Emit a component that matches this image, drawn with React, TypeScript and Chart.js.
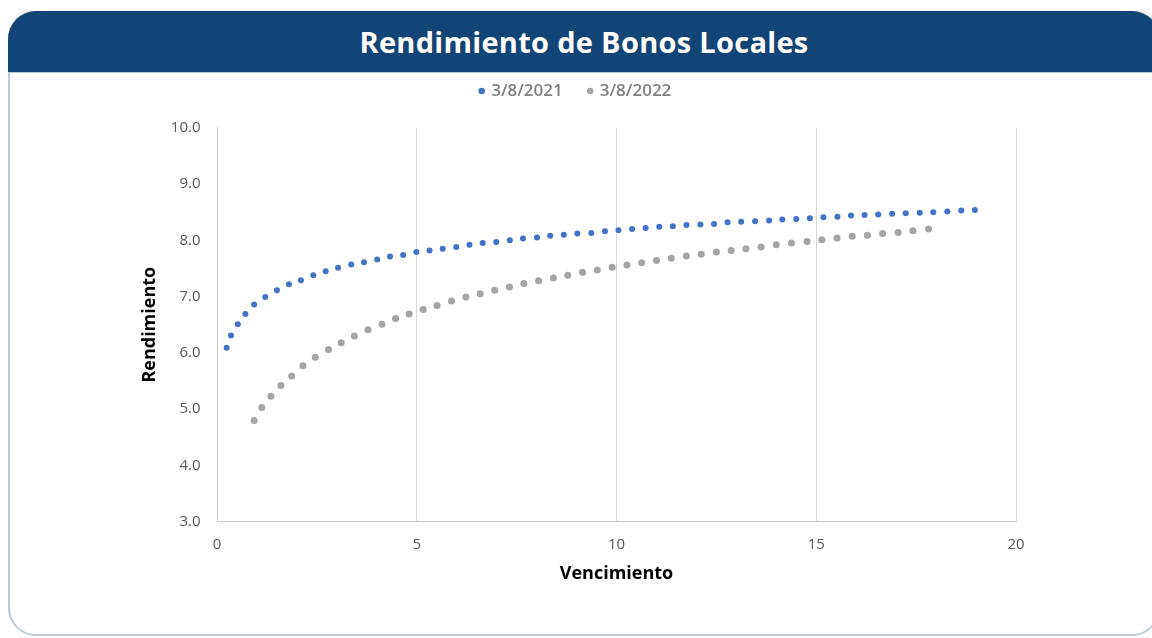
import React, { useEffect, useRef } from 'react';
import { Chart, registerables } from 'chart.js';

Chart.register(...registerables);

const TITLE = 'Rendimiento de Bonos Locales';
const SERIES_LABELS = ['3/8/2021', '3/8/2022'];
const X_TITLE = 'Vencimiento';
const Y_TITLE = 'Rendimiento';

const X_TICKS = [0, 5, 10, 15, 20];
const X_TICK_LABELS = ['0', '5', '10', '15', '20'];
const Y_TICKS = [3, 4, 5, 6, 7, 8, 9, 10];
const Y_TICK_LABELS = ['3.0', '4.0', '5.0', '6.0', '7.0', '8.0', '9.0', '10.0'];

const BLUE_X = [0.24, 0.35, 0.52, 0.71, 0.93, 1.21, 1.5, 1.8, 2.1, 2.41, 2.72, 3.03, 3.36, 3.68, 4.01, 4.33, 4.66, 4.99, 5.32, 5.65, 5.99, 6.32, 6.65, 6.99, 7.33, 7.66, 8.01, 8.34, 8.68, 9.02, 9.37, 9.71, 10.05, 10.39, 10.73, 11.07, 11.41, 11.75, 12.1, 12.44, 12.78, 13.12, 13.47, 13.82, 14.15, 14.5, 14.84, 15.18, 15.53, 15.87, 16.21, 16.55, 16.9, 17.24, 17.59, 17.93, 18.28, 18.63, 18.97];
const BLUE_Y = [6.09, 6.31, 6.51, 6.69, 6.86, 6.99, 7.11, 7.22, 7.29, 7.38, 7.45, 7.51, 7.57, 7.61, 7.66, 7.71, 7.74, 7.79, 7.82, 7.85, 7.88, 7.92, 7.95, 7.97, 8.0, 8.03, 8.05, 8.08, 8.1, 8.12, 8.13, 8.16, 8.18, 8.2, 8.22, 8.24, 8.25, 8.27, 8.28, 8.29, 8.32, 8.33, 8.34, 8.35, 8.37, 8.38, 8.39, 8.41, 8.42, 8.44, 8.45, 8.46, 8.47, 8.48, 8.49, 8.5, 8.51, 8.53, 8.54];

const GRAY_X = [0.93, 1.12, 1.35, 1.6, 1.87, 2.15, 2.46, 2.79, 3.11, 3.44, 3.78, 4.13, 4.47, 4.81, 5.16, 5.51, 5.87, 6.23, 6.59, 6.95, 7.32, 7.68, 8.05, 8.42, 8.78, 9.15, 9.52, 9.89, 10.26, 10.63, 11.0, 11.37, 11.75, 12.12, 12.5, 12.87, 13.24, 13.62, 14.0, 14.38, 14.77, 15.14, 15.52, 15.9, 16.28, 16.66, 17.05, 17.42, 17.81];
const GRAY_Y = [4.8, 5.03, 5.23, 5.42, 5.59, 5.77, 5.92, 6.06, 6.18, 6.3, 6.41, 6.51, 6.61, 6.69, 6.77, 6.84, 6.92, 6.99, 7.05, 7.11, 7.17, 7.23, 7.28, 7.33, 7.38, 7.43, 7.47, 7.52, 7.56, 7.6, 7.64, 7.68, 7.72, 7.75, 7.79, 7.82, 7.85, 7.88, 7.92, 7.95, 7.98, 8.01, 8.04, 8.07, 8.09, 8.12, 8.14, 8.17, 8.2];

const BLUE = '#4472c4';
const GRAY = '#a5a5a5';
const HEADER_BG = '#124475';
const CARD_BORDER = '#b9cdd4';
const FONT = "'Open Sans', 'Noto Sans', sans-serif";

const LEGEND_HEIGHT = 71.7;

const legendSpacer = {
  id: 'legendSpacer',
  beforeLayout(chart: any) {
    const lg = chart.legend;
    if (lg && !lg._spacerPatched) {
      const orig = lg.fit.bind(lg);
      lg.fit = function () {
        orig();
        this.height = LEGEND_HEIGHT;
      };
      lg._spacerPatched = true;
    }
  },
};

function toPoints(xs: number[], ys: number[]) {
  return xs.map((x, i) => ({ x, y: ys[i] }));
}

export default function App() {
  const ref = useRef<HTMLCanvasElement | null>(null);

  useEffect(() => {
    if (!ref.current) return;
    const chart = new Chart(ref.current, {
      type: 'scatter',
      data: {
        datasets: [
          {
            label: SERIES_LABELS[0],
            data: toPoints(BLUE_X, BLUE_Y),
            backgroundColor: BLUE,
            borderColor: BLUE,
            pointBackgroundColor: BLUE,
            pointBorderWidth: 0,
            borderWidth: 0,
            pointRadius: 3,
            pointStyle: 'circle',
          },
          {
            label: SERIES_LABELS[1],
            data: toPoints(GRAY_X, GRAY_Y),
            backgroundColor: GRAY,
            borderColor: GRAY,
            pointBackgroundColor: GRAY,
            pointBorderWidth: 0,
            borderWidth: 0,
            pointRadius: 3.5,
            pointStyle: 'circle',
          },
        ],
      },
      options: {
        responsive: false,
        animation: false,
        devicePixelRatio: 1,
        events: [],
        layout: { padding: { top: 56, left: 136, right: 136, bottom: 0 } },
        plugins: {
          legend: {
            display: true,
            position: 'top',
            labels: {
              usePointStyle: true,
              pointStyle: 'circle',
              boxWidth: 2,
              boxHeight: 4.7,
              padding: 26.5,
              color: '#7f7f7f',
              font: { family: FONT, size: 17, weight: '600' },
            },
          },
          tooltip: { enabled: false },
          title: { display: false },
        },
        scales: {
          x: {
            type: 'linear',
            min: 0,
            max: 20,
            afterFit: (s: any) => {
              s.height = 116.3;
            },
            afterBuildTicks: (s: any) => {
              s.ticks = X_TICKS.map((value) => ({ value }));
            },
            ticks: {
              padding: 14,
              color: '#595959',
              font: { family: FONT, size: 15 },
              callback: (_v: any, i: number) => X_TICK_LABELS[i],
            },
            grid: { display: true, color: '#d9d9d9', lineWidth: 1, drawTicks: false },
            border: { display: true, color: '#c8c8c8', width: 1 },
            title: {
              display: true,
              text: X_TITLE,
              color: '#000000',
              font: { family: FONT, size: 18, weight: 'bold' },
              padding: { top: 0, bottom: 53 },
            },
          },
          y: {
            type: 'linear',
            min: 3,
            max: 10,
            afterFit: (s: any) => {
              s.width = 81;
            },
            afterBuildTicks: (s: any) => {
              s.ticks = Y_TICKS.map((value) => ({ value }));
            },
            ticks: {
              padding: 16.5,
              color: '#595959',
              font: { family: FONT, size: 15 },
              callback: (_v: any, i: number) => Y_TICK_LABELS[i],
            },
            grid: { display: false, drawTicks: false },
            border: { display: true, color: '#c8c8c8', width: 1 },
            title: {
              display: true,
              text: Y_TITLE,
              color: '#000000',
              font: { family: FONT, size: 18, weight: 'bold' },
              padding: { top: 3.2, bottom: 0 },
            },
          },
        },
      },
      plugins: [legendSpacer],
    } as any);
    return () => chart.destroy();
  }, []);

  return (
    <div
      style={{
        position: 'fixed',
        left: 0,
        top: 0,
        width: 1152,
        height: 638,
        background: '#ffffff',
        overflow: 'hidden',
      }}
    >
      <div
        style={{
          position: 'absolute',
          left: 8,
          top: 11,
          width: 1152,
          height: 625,
          boxSizing: 'border-box',
          border: `2px solid ${CARD_BORDER}`,
          borderRadius: 28,
          background: '#ffffff',
        }}
      />
      <div
        style={{
          position: 'absolute',
          left: 8,
          top: 11,
          width: 1152,
          height: 62,
          boxSizing: 'border-box',
          background: HEADER_BG,
          borderRadius: '28px 28px 0 0',
          borderBottom: `1px solid ${CARD_BORDER}`,
          color: '#ffffff',
          fontFamily: FONT,
          fontWeight: 700,
          fontSize: 29,
          letterSpacing: 0.3,
          lineHeight: '61px',
          textAlign: 'center',
          whiteSpace: 'nowrap',
        }}
      >
        {TITLE}
      </div>
      <canvas
        ref={ref}
        width={1152}
        height={638}
        style={{ position: 'absolute', left: 0, top: 0, width: 1152, height: 638 }}
      />
    </div>
  );
}
